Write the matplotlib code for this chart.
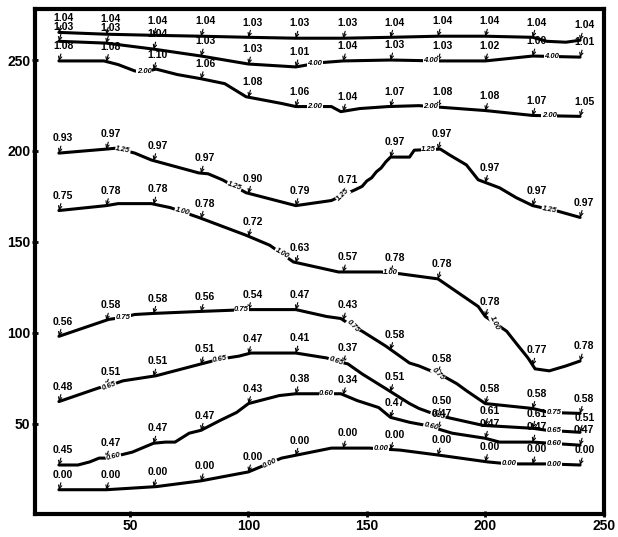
import numpy as np
import matplotlib
matplotlib.use("Agg")
import matplotlib.pyplot as plt

plt.rcParams['font.family'] = ['Liberation Sans', 'DejaVu Sans']

# stations along the profile
stations = [20, 40, 60, 80, 100, 120, 140, 160, 180, 200, 220, 240]

# contour lines (x, y)
line_a_x = [20, 40, 60, 80, 100, 120, 140, 160, 180, 200, 220, 226, 234, 240]
line_a_y = [265.2, 264.2, 263.6, 263.1, 262.5, 262.0, 262.0, 262.5, 263.1, 263.1, 262.5, 260.3, 259.8, 260.9]

line_b_x = [20, 40, 60, 80, 100, 120, 130, 140, 160, 180, 200, 220, 240]
line_b_y = [260.3, 259.3, 256.0, 252.2, 247.8, 246.2, 248.5, 249.5, 250.0, 249.5, 249.5, 252.2, 251.6]

line_c_x = [20, 39, 45, 52, 56, 61, 70, 80, 90, 99, 114, 120, 135, 139, 147, 159, 172, 200, 220, 240]
line_c_y = [249.5, 249.5, 247.5, 244.0, 243.5, 245.0, 242.0, 239.7, 237.0, 229.8, 226.1, 224.4, 224.4, 221.6, 223.3, 224.4, 224.9, 222.2, 219.5, 219.0]

line_d_x = [20, 40, 44, 52, 59, 79, 83, 89, 99, 120, 135, 145, 148, 150, 152, 154, 156, 158, 160, 168, 170, 181, 185, 192, 197, 206, 213, 220, 231, 240]
line_d_y = [198.8, 201.0, 201.5, 198.8, 195.0, 187.9, 187.4, 184.1, 177.0, 169.9, 172.7, 178.6, 180.5, 183.5, 185.2, 188.5, 190.6, 194.0, 196.6, 196.6, 200.4, 201.0, 197.7, 192.3, 184.1, 179.7, 174.3, 169.9, 166.7, 163.4]

line_e_x = [20, 40, 45, 59, 67, 79, 99, 109, 119, 138, 156, 164, 180, 197, 200, 209, 213, 218, 221, 227, 234, 240]
line_e_y = [167.2, 169.9, 171.0, 171.0, 168.8, 163.4, 153.6, 148.1, 138.9, 133.4, 133.4, 132.4, 129.6, 114.4, 108.9, 100.8, 94.2, 86.1, 80.1, 79.0, 81.7, 84.4]

line_f_x = [20, 41, 47, 52, 60, 80, 100, 120, 133, 139, 144, 148, 158, 168, 172, 182, 188, 192, 200, 220, 227, 240]
line_f_y = [98.0, 107.3, 108.4, 110.0, 110.6, 111.7, 112.7, 112.7, 108.9, 107.8, 103.5, 100.8, 92.6, 83.3, 81.7, 76.3, 71.9, 68.1, 61.0, 58.3, 56.1, 55.6]

line_g_x = [20, 37, 41, 47, 61, 80, 88, 96, 101, 120, 133, 137, 142, 148, 158, 168, 172, 180, 199, 220, 226, 240]
line_g_y = [62.1, 69.7, 70.8, 73.5, 76.3, 82.8, 85.5, 87.1, 88.8, 88.8, 86.1, 84.4, 82.8, 77.3, 69.2, 61.0, 58.3, 54.5, 49.0, 47.4, 46.3, 45.2]

line_h_x = [20, 28, 33, 37, 40, 43, 46, 51, 60, 65, 69, 75, 80, 88, 95, 100, 113, 120, 128, 139, 146, 155, 160, 168, 175, 186, 200, 206, 220, 240]
line_h_y = [27.2, 27.2, 28.9, 31.0, 31.0, 31.6, 32.7, 34.3, 39.2, 39.8, 39.8, 44.7, 46.3, 51.7, 56.1, 61.0, 65.4, 66.4, 66.4, 66.4, 62.6, 58.8, 53.4, 50.7, 49.0, 44.7, 41.9, 39.8, 39.8, 38.1]

line_i_x = [20, 40, 61, 80, 100, 109, 114, 135, 151, 164, 180, 201, 210, 227, 240]
line_i_y = [13.6, 13.6, 15.3, 18.5, 23.4, 28.3, 31.0, 36.5, 36.5, 35.4, 32.7, 28.9, 27.8, 27.8, 27.2]

# values printed at each station
vals_a = ["1.04", "1.04", "1.04", "1.04", "1.03", "1.03", "1.03", "1.04", "1.04", "1.04", "1.04", "1.04"]
vals_b = ["1.03", "1.03", "1.04", "1.03", "1.03", "1.01", "1.04", "1.03", "1.03", "1.02", "1.00", "1.01"]
vals_c = ["1.08", "1.08", "1.10", "1.06", "1.08", "1.06", "1.04", "1.07", "1.08", "1.08", "1.07", "1.05"]
vals_d = ["0.93", "0.97", "0.97", "0.97", "0.90", "0.79", "0.71", "0.97", "0.97", "0.97", "0.97", "0.97"]
vals_e = ["0.75", "0.78", "0.78", "0.78", "0.72", "0.63", "0.57", "0.78", "0.78", "0.78", "0.77", "0.78"]
vals_f = ["0.56", "0.58", "0.58", "0.56", "0.54", "0.47", "0.43", "0.58", "0.58", "0.58", "0.58", "0.58"]
vals_g = ["0.48", "0.51", "0.51", "0.51", "0.47", "0.41", "0.37", "0.51", "0.50", "0.61", "0.61", "0.51"]
vals_h = ["0.45", "0.47", "0.47", "0.47", "0.43", "0.38", "0.34", "0.47", "0.47", "0.47", "0.47", "0.47"]
vals_i = ["0.00"] * 12

# contour level labels and where they sit along each line
lev_b, lev_b_at, lev_b_rot = "4.00", [128, 177, 228], [0, 0, 0]
lev_c, lev_c_at, lev_c_rot = "2.00", [56, 128, 177, 227], [0, 0, 0, 0]
lev_d, lev_d_at, lev_d_rot = "1.25", [47, 94, 140, 176, 227], [-10, -20, 45, 0, -10]
lev_e, lev_e_at, lev_e_rot = "1.00", [72, 114, 160, 204], [-15, -30, 0, -65]
lev_f, lev_f_at, lev_f_rot = "0.75", [47, 97, 144, 180, 229], [0, 0, -45, -45, 0]
lev_g, lev_g_at, lev_g_rot = "0.65", [41, 88, 137, 180, 229], [20, 10, -20, -15, 0]
lev_h, lev_h_at, lev_h_rot = "0.60", [43, 133, 177, 229], [15, 0, -15, 0]
lev_i, lev_i_at, lev_i_rot = "0.00", [109, 156, 210, 229], [25, 0, 0, 0]

contours = [
    (line_a_x, line_a_y, vals_a, None, [], []),
    (line_b_x, line_b_y, vals_b, lev_b, lev_b_at, lev_b_rot),
    (line_c_x, line_c_y, vals_c, lev_c, lev_c_at, lev_c_rot),
    (line_d_x, line_d_y, vals_d, lev_d, lev_d_at, lev_d_rot),
    (line_e_x, line_e_y, vals_e, lev_e, lev_e_at, lev_e_rot),
    (line_f_x, line_f_y, vals_f, lev_f, lev_f_at, lev_f_rot),
    (line_g_x, line_g_y, vals_g, lev_g, lev_g_at, lev_g_rot),
    (line_h_x, line_h_y, vals_h, lev_h, lev_h_at, lev_h_rot),
    (line_i_x, line_i_y, vals_i, lev_i, lev_i_at, lev_i_rot),
]

fig = plt.figure(figsize=(6.18, 5.37), dpi=100)
ax = fig.add_axes([0.057, 0.042, 0.92, 0.941])

for lx, ly, vals, lev, lev_at, lev_rot in contours:
    ax.plot(lx, ly, color='black', lw=2.2, solid_capstyle='round')
    ys = np.interp(stations, lx, ly)
    for x, y, v in zip(stations, ys, vals):
        ax.annotate(v, xy=(x, y), xytext=(3, 7), textcoords='offset points',
                    ha='center', va='bottom', fontsize=7.5, fontweight='bold',
                    arrowprops=dict(arrowstyle='->', lw=0.8, color='black',
                                    shrinkA=0, shrinkB=0, mutation_scale=6))
    for x, r in zip(lev_at, lev_rot):
        y = np.interp(x, lx, ly)
        ax.text(x, y, lev, fontsize=5.5, ha='center', va='center', rotation=r,
                style='italic', fontweight='bold',
                bbox=dict(facecolor='white', edgecolor='none', pad=0.3))

ax.set_xlim(10, 250)
ax.set_ylim(0, 278)
ax.set_xticks([50, 100, 150, 200, 250])
ax.set_yticks([50, 100, 150, 200, 250])
ax.tick_params(direction='inout', length=5, width=2, labelsize=10, pad=1)
for lab in ax.get_xticklabels() + ax.get_yticklabels():
    lab.set_fontweight('bold')
for s in ax.spines.values():
    s.set_linewidth(3)

fig.savefig("out.png", dpi=100)
